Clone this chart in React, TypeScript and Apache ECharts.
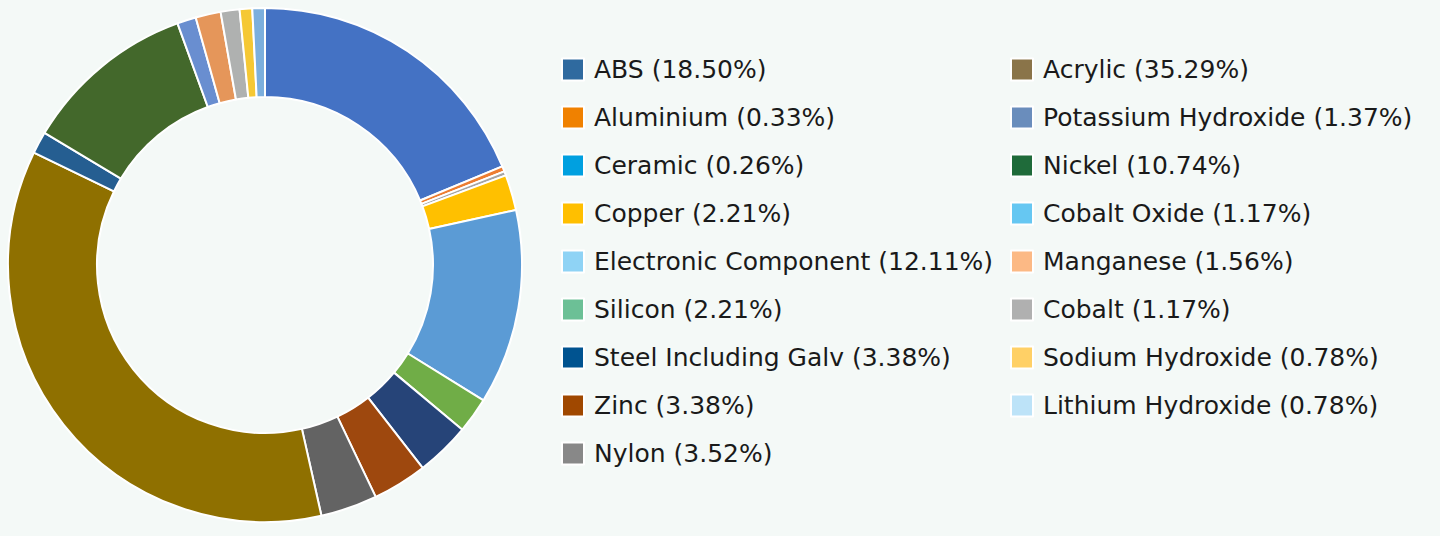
import React, { useEffect, useRef } from "react";
import * as echarts from "echarts";

const names = [
  "ABS", "Aluminium", "Ceramic", "Copper", "Electronic Component", "Silicon",
  "Steel Including Galv", "Zinc", "Nylon", "Acrylic", "Potassium Hydroxide",
  "Nickel", "Cobalt Oxide", "Manganese", "Cobalt", "Sodium Hydroxide", "Lithium Hydroxide",
];
const values = [18.5, 0.33, 0.26, 2.21, 12.11, 2.21, 3.38, 3.38, 3.52, 35.29, 1.37, 10.74, 1.17, 1.56, 1.17, 0.78, 0.78];
const sliceColors = [
  "#4472C4", "#ED7D31", "#A5A5A5", "#FFC000", "#5B9BD5", "#70AD47",
  "#264478", "#9E480E", "#636363", "#8F7000", "#255E91", "#43682B",
  "#698ED0", "#E5965A", "#AFB1B0", "#F5C834", "#7CAFDD",
];
const legendColors = [
  "#2F6A9F", "#F08100", "#00A0E0", "#FFBF00", "#8FD3F5", "#6CC096",
  "#005390", "#A04800", "#888888", "#8A7449", "#6A8DBC", "#1F6B3A",
  "#66C7F2", "#FCB985", "#B0B0B0", "#FFD066", "#BDE3F8",
];
const col1Count = 9;

export default function App() {
  const ref = useRef<HTMLDivElement>(null);
  useEffect(() => {
    document.body.style.margin = "0";
    const chart = echarts.init(ref.current!, null, { renderer: "svg" });
    const legendItem = (i: number) => ({
      name: names[i],
      icon: "rect",
      itemStyle: { color: legendColors[i] },
    });
    const idx = names.map((_, i) => i);
    const legendBase = {
      orient: "vertical",
      top: 57,
      padding: 0,
      itemWidth: 22,
      itemHeight: 22,
      itemGap: 23,
      selectedMode: false,
      formatter: (n: string) => `${n} (${values[names.indexOf(n)].toFixed(2)}%)`,
      textStyle: {
        fontFamily: "DejaVu Sans",
        fontSize: 25,
        lineHeight: 22,
        color: "#1a1a1a",
        padding: [2, 0, 0, 5],
      },
    };
    chart.setOption({
      animation: false,
      backgroundColor: "#F4F9F7",
      legend: [
        { ...legendBase, left: 561, data: idx.slice(0, col1Count).map(legendItem) },
        { ...legendBase, left: 1010, data: idx.slice(col1Count).map(legendItem) },
      ],
      series: [
        {
          type: "pie",
          center: [265, 265],
          radius: [168, 257],
          startAngle: 90,
          clockwise: true,
          label: { show: false },
          labelLine: { show: false },
          emphasis: { disabled: true },
          itemStyle: { borderColor: "#ffffff", borderWidth: 2 },
          data: names.map((n, i) => ({
            name: n,
            value: values[i],
            itemStyle: { color: sliceColors[i] },
          })),
        },
      ],
    });
    return () => chart.dispose();
  }, []);
  return <div ref={ref} style={{ width: 1440, height: 536 }} />;
}
